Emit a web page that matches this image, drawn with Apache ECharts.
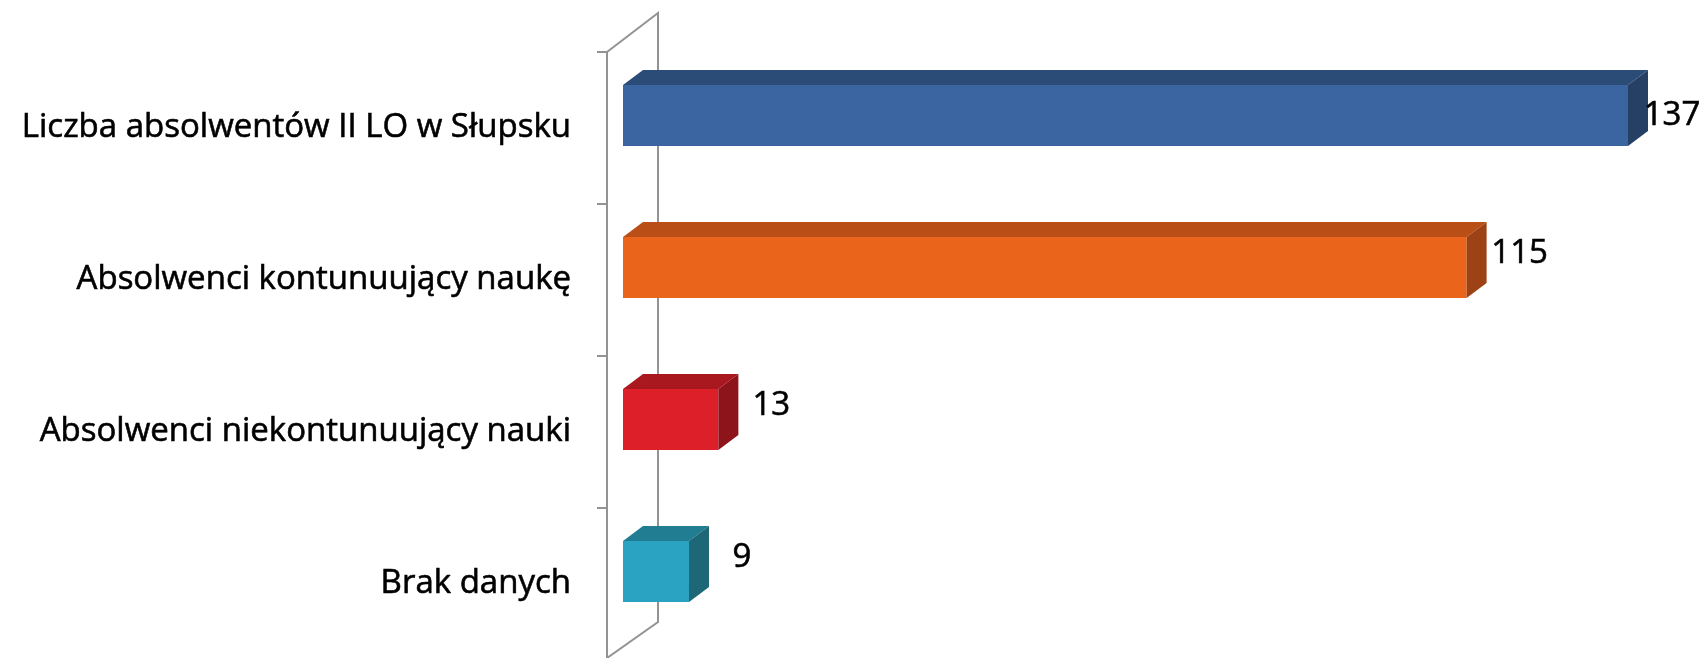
<!DOCTYPE html>
<html>
<head>
<meta charset="utf-8">
<script src="https://cdn.jsdelivr.net/npm/echarts@6/dist/echarts.min.js"></script>
<style>
html,body{margin:0;padding:0;background:#fff;}
#chart{width:1708px;height:658px;}
</style>
</head>
<body>
<div id="chart"></div>
<script>
var categories = [
  "Liczba absolwentów II LO w Słupsku",
  "Absolwenci kontunuujący naukę",
  "Absolwenci niekontunuujący nauki",
  "Brak danych"
];
var values = [137, 115, 13, 9];

var faceColors = [
  {front:'#3A65A0', top:'#2C4C78', side:'#263F65'},
  {front:'#EB641C', top:'#BA4E17', side:'#9C4214'},
  {front:'#DD1F2A', top:'#A9171F', side:'#8D141B'},
  {front:'#2AA2C1', top:'#207D92', side:'#1D6776'}
];
var DX = 20, DY = 15;
var FONT = '"Open Sans", "Noto Sans", sans-serif';

var chart = echarts.init(document.getElementById('chart'), null, {renderer:'canvas'});
var option = {
  animation: false,
  backgroundColor: '#ffffff',
  grid: [
    {left: 623, top: 39.5, height: 608, width: 1027, outerBoundsMode: 'none'},
    {left: 607, top: 52, height: 608, width: 100, outerBoundsMode: 'none'}
  ],
  xAxis: [
    {gridIndex:0, type:'value', min:0, max:140, show:false},
    {gridIndex:1, type:'value', min:0, max:1, show:false}
  ],
  yAxis: [
    {gridIndex:0, type:'category', data:categories, inverse:true, show:false},
    {gridIndex:1, type:'category', data:categories, inverse:true,
     axisLine:{show:true, lineStyle:{color:'#939393', width:2}},
     axisTick:{show:true, length:10, lineStyle:{color:'#939393', width:2}},
     axisLabel:{margin:36, fontSize:33, color:'#000', fontFamily:FONT,
                textBorderColor:'#000', textBorderWidth:0.6}
    }
  ],
  graphic: [
    {type:'polyline', z:0, silent:true,
     shape:{points:[[607,52],[658,13],[658,622],[607,658]]},
     style:{stroke:'#939393', lineWidth:2, fill:null}}
  ],
  series: [{
    type:'custom',
    xAxisIndex:0, yAxisIndex:0,
    z: 10,
    encode:{x:0, y:1},
    data: values.map(function(v,i){return [v,i];}),
    renderItem: function(params, api){
      var i = params.dataIndex;
      var v = api.value(0), c = api.value(1);
      var p0 = api.coord([0, c]);
      var p1 = api.coord([v, c]);
      var band = api.size([0, 1])[1];
      var h = band * 0.4;
      var x0 = p0[0], x1 = p1[0];
      var yT = p0[1] - h/2, yB = p0[1] + h/2;
      var col = faceColors[i % faceColors.length];
      var lx = x1 + 53, ly = p0[1] - 14;
      var W = api.getWidth();
      if (lx + 27 > W - 8) { lx = W - 36; ly = p0[1]; }
      return {
        type:'group',
        children:[
          {type:'rect', shape:{x:x0, y:yT, width:x1-x0, height:h},
           style:{fill:col.front}},
          {type:'polygon', shape:{points:[[x0,yT],[x0+DX,yT-DY],[x1+DX,yT-DY],[x1,yT]]},
           style:{fill:col.top}},
          {type:'polygon', shape:{points:[[x1,yT],[x1+DX,yT-DY],[x1+DX,yB-DY],[x1,yB]]},
           style:{fill:col.side}},
          {type:'text', x:lx, y:ly,
           style:{text:String(v), fill:'#000', font:'33px ' + FONT,
                  stroke:'#000', lineWidth:0.6,
                  align:'center', verticalAlign:'middle'}}
        ]
      };
    }
  }]
};
chart.setOption(option);
</script>
</body>
</html>
